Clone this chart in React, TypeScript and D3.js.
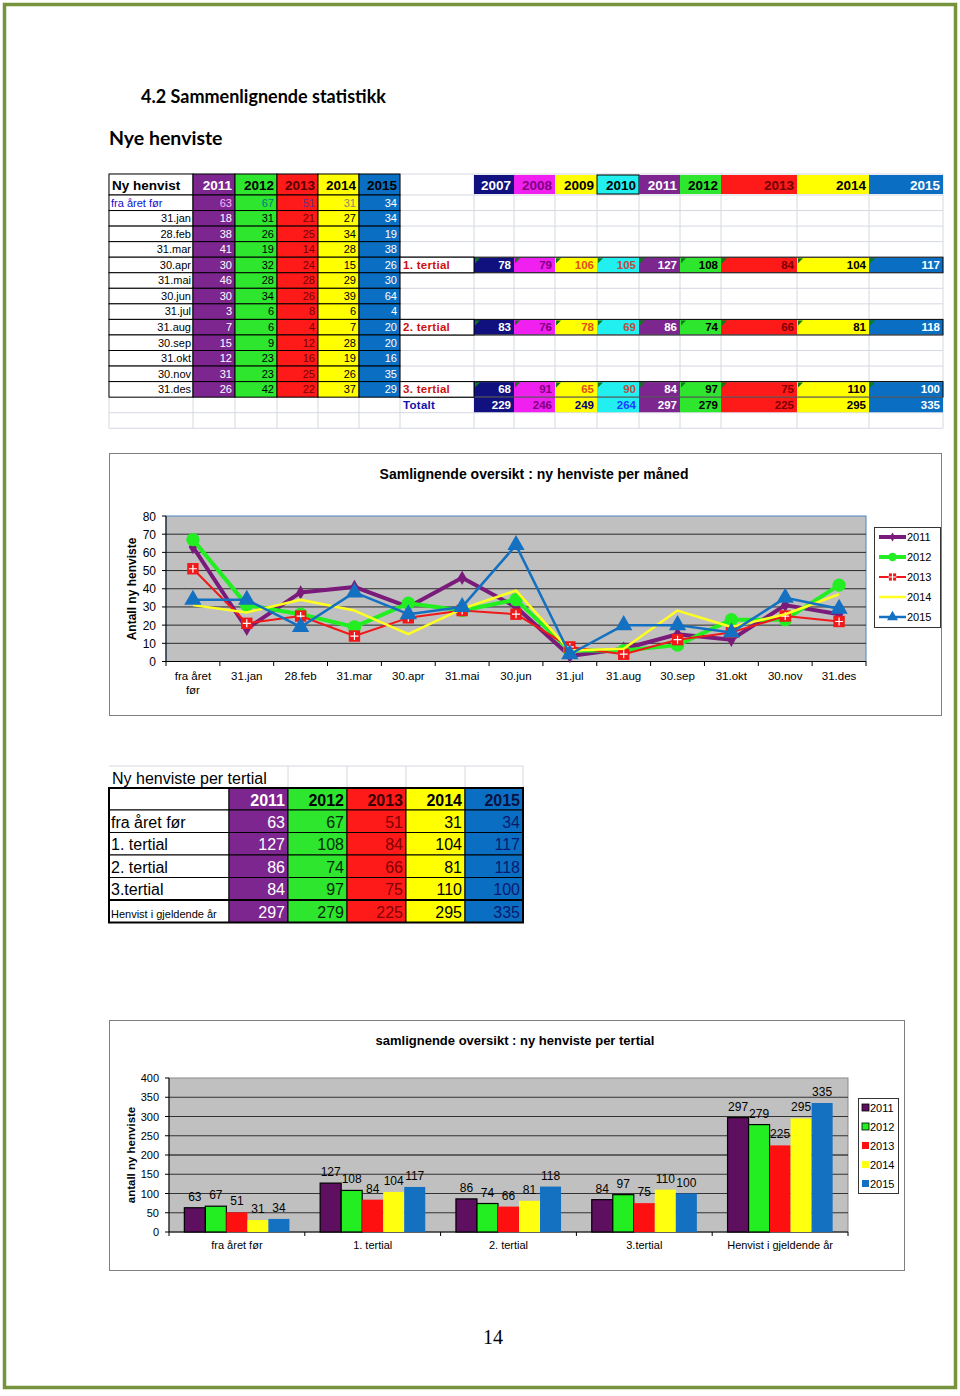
import React from "react";
import * as d3 from "d3";

// ---- data ----
const years = ["2011", "2012", "2013", "2014", "2015"];
const months = ["fra året før", "31.jan", "28.feb", "31.mar", "30.apr", "31.mai", "30.jun", "31.jul", "31.aug", "30.sep", "31.okt", "30.nov", "31.des"];
const m2011 = [63, 18, 38, 41, 30, 46, 30, 3, 7, 15, 12, 31, 26];
const m2012 = [67, 31, 26, 19, 32, 28, 34, 6, 6, 9, 23, 23, 42];
const m2013 = [51, 21, 25, 14, 24, 28, 26, 8, 4, 12, 16, 25, 22];
const m2014 = [31, 27, 34, 28, 15, 29, 39, 6, 7, 28, 19, 26, 37];
const m2015 = [34, 34, 19, 38, 26, 30, 64, 4, 20, 20, 16, 35, 29];

const tertYears = ["2007", "2008", "2009", "2010", "2011", "2012", "2013", "2014", "2015"];
const tert1 = [78, 79, 106, 105, 127, 108, 84, 104, 117];
const tert2 = [83, 76, 78, 69, 86, 74, 66, 81, 118];
const tert3 = [68, 91, 65, 90, 84, 97, 75, 110, 100];
const totalt = [229, 246, 249, 264, 297, 279, 225, 295, 335];
const tertLabels = ["1. tertial", "2. tertial", "3. tertial", "Totalt"];

const groups = ["fra året før", "1. tertial", "2. tertial", "3.tertial", "Henvist i gjeldende år"];
const g2011 = [63, 127, 86, 84, 297];
const g2012 = [67, 108, 74, 97, 279];
const g2013 = [51, 84, 66, 75, 225];
const g2014 = [31, 104, 81, 110, 295];
const g2015 = [34, 117, 118, 100, 335];

// ---- styles ----
const F = "'Liberation Sans', Arial, sans-serif";
const C = {
  purple: "#7d2690", green: "#2ee62e", red: "#ff1a1a", yellow: "#ffff00", blue: "#0a6fc2",
  navy: "#10107e", magenta: "#f020f0", cyan: "#22f0f0", darkPurple: "#5f0f5f",
};
const yearFill: Record<string, string> = {
  "2007": C.navy, "2008": C.magenta, "2009": C.yellow, "2010": C.cyan,
  "2011": C.purple, "2012": C.green, "2013": C.red, "2014": C.yellow, "2015": C.blue,
};
const grid = "#d4d8e0";

// top table layout
const leftEdges = [109, 193, 235, 277, 318, 359, 400];
const rightEdges = [400, 474, 514, 555, 597, 639, 680, 721, 797, 869, 943];
const rowS = d3.scaleLinear().domain([0, 15]).range([195, 428.25]);
const headTop = 174;

function TopTable() {
  const monthly = [m2011, m2012, m2013, m2014, m2015];
  const leftHeadText = ["#fff", "#000", "#5a0000", "#000", "#000"];
  const leftValText = ["#fff", "#000", "#7a0000", "#000", "#fff"];
  const firstRowText = ["#ffb8ff", "#007a7a", "#6a2aa0", "#8a8a6a", "#fff"];
  const rightHeadText: Record<string, string> = {
    "2007": "#fff", "2008": "#800080", "2009": "#000", "2010": "#000", "2011": "#fff",
    "2012": "#000", "2013": "#700000", "2014": "#000", "2015": "#fff",
  };
  const rightValText: Record<string, string> = {
    "2007": "#fff", "2008": "#800080", "2009": "#e0501a", "2010": "#c04a40", "2011": "#fff",
    "2012": "#000", "2013": "#800000", "2014": "#000", "2015": "#fff",
  };
  const totText: Record<string, string> = { ...rightValText, "2009": "#000080", "2010": "#1a40ff" };
  const tertRows = [4, 8, 12, 13];
  const tertVals = [tert1, tert2, tert3, totalt];
  const allX = Array.from(new Set([...leftEdges, ...rightEdges]));
  const rowLines = d3.range(0, 16).map((i) => rowS(i));
  return (
    <g fontFamily={F}>
      {/* light spreadsheet grid */}
      {allX.map((x) => (
        <line key={"gx" + x} x1={x} x2={x} y1={headTop} y2={rowS(15)} stroke={grid} />
      ))}
      {[headTop, ...rowLines].map((y, i) => (
        <line key={"gy" + i} x1={109} x2={943} y1={y} y2={y} stroke={grid} />
      ))}
      {/* left header */}
      <rect x={109} y={headTop} width={leftEdges[1] - 109} height={195 - headTop} fill="#fff" stroke="#000" />
      <text x={112} y={190} fontSize={13.5} fontWeight="bold">Ny henvist</text>
      {years.map((yr, j) => (
        <g key={"lh" + yr}>
          <rect x={leftEdges[j + 1]} y={headTop} width={leftEdges[j + 2] - leftEdges[j + 1]} height={195 - headTop} fill={yearFill[yr]} stroke="#000" />
          <text x={leftEdges[j + 2] - 3} y={190} fontSize={13.5} fontWeight="bold" textAnchor="end" fill={leftHeadText[j]}>{yr}</text>
        </g>
      ))}
      {/* left rows */}
      {months.map((m, i) => {
        const y0 = rowS(i), y1 = rowS(i + 1);
        return (
          <g key={"lr" + i}>
            <rect x={109} y={y0} width={leftEdges[1] - 109} height={y1 - y0} fill="#fff" stroke="#000" />
            {i === 0 ? (
              <text x={111} y={y1 - 4} fontSize={11} fill="#1010cc">{m}</text>
            ) : (
              <text x={leftEdges[1] - 2} y={y1 - 4} fontSize={11} textAnchor="end">{m}</text>
            )}
            {years.map((yr, j) => (
              <g key={yr}>
                <rect x={leftEdges[j + 1]} y={y0} width={leftEdges[j + 2] - leftEdges[j + 1]} height={y1 - y0} fill={yearFill[yr]} stroke="#000" />
                <text x={leftEdges[j + 2] - 3} y={y1 - 4} fontSize={11} textAnchor="end" fill={i === 0 ? firstRowText[j] : leftValText[j]}>
                  {monthly[j][i]}
                </text>
              </g>
            ))}
          </g>
        );
      })}
      {/* right header */}
      {tertYears.map((yr, j) => (
        <g key={"rh" + yr}>
          <rect x={rightEdges[j + 1]} y={headTop + 1} width={rightEdges[j + 2] - rightEdges[j + 1]} height={195 - headTop - 2} fill={yearFill[yr]} stroke={yr === "2010" ? "#000" : "none"} />
          <text x={rightEdges[j + 2] - 3} y={190} fontSize={13.5} fontWeight="bold" textAnchor="end" fill={rightHeadText[yr]}>{yr}</text>
        </g>
      ))}
      {/* tertial rows */}
      {tertRows.map((r, k) => {
        const y0 = rowS(r), y1 = rowS(r + 1);
        const isTot = k === 3;
        return (
          <g key={"tr" + r}>
            {tertYears.map((yr, j) => (
              <g key={yr}>
                <rect x={rightEdges[j + 1]} y={y0 + 0.5} width={rightEdges[j + 2] - rightEdges[j + 1]} height={y1 - y0 - 1} fill={yearFill[yr]} />
                {!isTot && (
                  <path d={`M${rightEdges[j + 1] + 1},${y0 + 1}h5l-5,5z`} fill="#0a7a1a" />
                )}
                <text x={rightEdges[j + 2] - 3} y={y1 - 4} fontSize={11.5} fontWeight="bold" textAnchor="end" fill={isTot ? totText[yr] : rightValText[yr]}>
                  {tertVals[k][j]}
                </text>
              </g>
            ))}
            {!isTot && (
              <>
                <rect x={400} y={y0} width={543} height={y1 - y0} fill="none" stroke="#000" />
                <rect x={400} y={y0} width={74} height={y1 - y0} fill="#fff" stroke="#000" />
              </>
            )}
            <text x={403} y={y1 - 4} fontSize={11.5} fontWeight="bold" letterSpacing={0.3} fill={isTot ? "#1414a8" : "#cc1010"}>
              {tertLabels[k]}
            </text>
          </g>
        );
      })}
    </g>
  );
}

function LineChart() {
  const x = d3.scaleBand().domain(months).range([166, 866]);
  const y = d3.scaleLinear().domain([0, 80]).range([661.5, 516]);
  const series = [
    { name: "2011", data: m2011, color: "#7a1a7a", width: 4, sym: d3.symbolDiamond, size: 60 },
    { name: "2012", data: m2012, color: "#22ee22", width: 4, sym: d3.symbolCircle, size: 140 },
    { name: "2013", data: m2013, color: "#f01818", width: 2, sym: d3.symbolSquare, size: 130 },
    { name: "2014", data: m2014, color: "#ffff20", width: 2.5, sym: null, size: 0 },
    { name: "2015", data: m2015, color: "#1470c0", width: 2.5, sym: d3.symbolTriangle, size: 130 },
  ];
  const cx = (m: string) => (x(m) as number) + x.bandwidth() / 2;
  const line = d3.line<number>().x((_, i) => cx(months[i])).y((d) => y(d));
  const ticks = y.ticks(8);
  const marker = (s: typeof series[number], px: number, py: number, key: string) => {
    if (!s.sym) return null;
    const p = d3.symbol().type(s.sym).size(s.size)();
    return (
      <g key={key} transform={`translate(${px},${py})`}>
        <path d={p || ""} fill={s.color} />
        {s.name === "2013" && <path d="M-4,0H4M0,-4V4" stroke="#fff" strokeWidth={1.2} />}
      </g>
    );
  };
  return (
    <g fontFamily={F}>
      <rect x={109.5} y={453.5} width={832} height={262} fill="#fff" stroke="#7f7f7f" />
      <text x={534} y={479} fontSize={14} fontWeight="bold" textAnchor="middle">
        Samlignende oversikt : ny henviste per måned
      </text>
      <rect x={166} y={516} width={700} height={145.5} fill="#c0c0c0" stroke="#4a86c0" />
      {ticks.map((t) => (
        <g key={t}>
          {t > 0 && t < 80 && <line x1={166} x2={866} y1={y(t)} y2={y(t)} stroke="#2a2a2a" />}
          <line x1={162} x2={166} y1={y(t)} y2={y(t)} stroke="#000" />
          <text x={156} y={y(t) + 4.5} fontSize={12} textAnchor="end">{t}</text>
        </g>
      ))}
      <line x1={166} x2={166} y1={516} y2={661.5} stroke="#000" />
      <line x1={166} x2={866} y1={661.5} y2={661.5} stroke="#000" />
      {months.map((m, i) => (
        <line key={"xt" + i} x1={(x(m) as number) + x.bandwidth()} x2={(x(m) as number) + x.bandwidth()} y1={661.5} y2={666} stroke="#000" />
      ))}
      <line x1={166} x2={166} y1={661.5} y2={666} stroke="#000" />
      {months.map((m, i) =>
        i === 0 ? (
          <text key={m} x={cx(m)} y={680} fontSize={11.5} textAnchor="middle">
            <tspan x={cx(m)}>fra året</tspan>
            <tspan x={cx(m)} dy={14}>før</tspan>
          </text>
        ) : (
          <text key={m} x={cx(m)} y={680} fontSize={11.5} textAnchor="middle">{m}</text>
        )
      )}
      <text transform="translate(136,589) rotate(-90)" fontSize={12} fontWeight="bold" textAnchor="middle">
        Antall ny henviste
      </text>
      {series.map((s) => (
        <g key={s.name}>
          <path d={line(s.data) || ""} fill="none" stroke={s.color} strokeWidth={s.width} strokeLinejoin="round" />
          {s.data.map((d, i) => marker(s, cx(months[i]), y(d), s.name + i))}
        </g>
      ))}
      {/* legend */}
      <rect x={874.5} y={527.5} width={66} height={100} fill="#fff" stroke="#333" />
      {series.map((s, i) => {
        const ly = 537 + i * 20;
        return (
          <g key={"lg" + s.name}>
            <line x1={879} x2={906} y1={ly} y2={ly} stroke={s.color} strokeWidth={s.width} />
            {marker({ ...s, size: s.size * 0.4 }, 892.5, ly, "lm" + i)}
            <text x={907} y={ly + 4} fontSize={11}>{s.name}</text>
          </g>
        );
      })}
    </g>
  );
}

function TertialTable() {
  const cols = [109, 229, 288, 347, 406, 465, 523];
  const rowsY = d3.scaleLinear().domain([0, 5]).range([810, 922.5]);
  const perYear = [g2011, g2012, g2013, g2014, g2015];
  const textCol = ["#fff", "#062a06", "#800000", "#000", "#0a1a70"];
  const headCol = ["#fff", "#000", "#3a0000", "#000", "#0a1240"];
  return (
    <g fontFamily={F}>
      {[288, 347, 406, 465, 523].map((xx) => (
        <line key={xx} x1={xx} x2={xx} y1={766} y2={788} stroke={grid} />
      ))}
      <line x1={109} x2={523} y1={766} y2={766} stroke={grid} />
      <text x={112} y={784} fontSize={16}>Ny henviste per tertial</text>
      <rect x={109} y={788} width={cols[1] - 109} height={22} fill="#fff" stroke="#000" />
      {years.map((yr, j) => (
        <g key={"h" + yr}>
          <rect x={cols[j + 1]} y={788} width={cols[j + 2] - cols[j + 1]} height={22} fill={yearFill[yr]} stroke="#000" />
          <text x={cols[j + 2] - 3} y={806} fontSize={16} fontWeight="bold" textAnchor="end" fill={headCol[j]}>{yr}</text>
        </g>
      ))}
      {groups.map((g, i) => {
        const y0 = rowsY(i), y1 = rowsY(i + 1);
        return (
          <g key={g}>
            <rect x={109} y={y0} width={cols[1] - 109} height={y1 - y0} fill="#fff" stroke="#000" />
            <text x={111} y={y1 - 5} fontSize={i === 4 ? 11 : 16}>{g}</text>
            {years.map((yr, j) => (
              <g key={yr}>
                <rect x={cols[j + 1]} y={y0} width={cols[j + 2] - cols[j + 1]} height={y1 - y0} fill={yearFill[yr]} stroke="#000" />
                <text x={cols[j + 2] - 3} y={y1 - 5} fontSize={16} textAnchor="end" fill={textCol[j]}>{perYear[j][i]}</text>
              </g>
            ))}
          </g>
        );
      })}
      <rect x={109} y={788} width={414} height={134.5} fill="none" stroke="#000" strokeWidth={2} />
      <line x1={109} x2={523} y1={rowsY(4)} y2={rowsY(4)} stroke="#000" strokeWidth={2} />
    </g>
  );
}

function BarChart() {
  const x0 = d3.scaleBand().domain(groups).range([169, 848]);
  const x1 = d3.scaleBand().domain(years).range([0, x0.bandwidth()]).paddingOuter(0.73);
  const y = d3.scaleLinear().domain([0, 400]).range([1232, 1078]);
  const perYear = [g2011, g2012, g2013, g2014, g2015];
  const fills = [C.darkPurple, "#22ee22", "#ff1010", "#ffff10", "#1470c0"];
  const outlined = [true, true, false, false, false];
  const ticks = y.ticks(8);
  return (
    <g fontFamily={F}>
      <rect x={109.5} y={1020.5} width={795} height={250} fill="#fff" stroke="#7f7f7f" />
      <text x={515} y={1045} fontSize={13} fontWeight="bold" textAnchor="middle">
        samlignende oversikt : ny henviste per tertial
      </text>
      <rect x={169} y={1078} width={679} height={154} fill="#c0c0c0" stroke="#8a8a8a" />
      {ticks.map((t) => (
        <g key={t}>
          {t > 0 && t < 400 && <line x1={169} x2={848} y1={y(t)} y2={y(t)} stroke={t === 200 ? "#000" : "#333"} />}
          <line x1={165} x2={169} y1={y(t)} y2={y(t)} stroke="#000" />
          <text x={159} y={y(t) + 4} fontSize={11} textAnchor="end">{t}</text>
        </g>
      ))}
      <line x1={169} x2={169} y1={1078} y2={1232} stroke="#000" />
      <line x1={169} x2={848} y1={1232} y2={1232} stroke="#000" />
      {groups.map((g) => (
        <line key={"t" + g} x1={(x0(g) as number) + x0.bandwidth()} x2={(x0(g) as number) + x0.bandwidth()} y1={1232} y2={1236} stroke="#000" />
      ))}
      <line x1={169} x2={169} y1={1232} y2={1236} stroke="#000" />
      {groups.map((g) => (
        <text key={"l" + g} x={(x0(g) as number) + x0.bandwidth() / 2} y={1249} fontSize={11} textAnchor="middle">{g}</text>
      ))}
      <text transform="translate(135,1155) rotate(-90)" fontSize={11.5} fontWeight="bold" textAnchor="middle">
        antall ny henviste
      </text>
      {groups.map((g, gi) => (
        <g key={"b" + g} transform={`translate(${x0(g)},0)`}>
          {years.map((yr, j) => {
            const v = perYear[j][gi];
            const bx = x1(yr) as number;
            return (
              <g key={yr}>
                <rect x={bx} y={y(v)} width={x1.bandwidth()} height={1232 - y(v)} fill={fills[j]} stroke={outlined[j] ? "#000" : "none"} strokeWidth={1.2} />
                <text x={bx + x1.bandwidth() / 2} y={y(v) - 7} fontSize={12} textAnchor="middle">{v}</text>
              </g>
            );
          })}
        </g>
      ))}
      <rect x={858.5} y={1098.5} width={40} height={95} fill="#fff" stroke="#333" />
      {years.map((yr, j) => {
        const ly = 1108 + j * 19;
        return (
          <g key={"lg" + yr}>
            <rect x={862} y={ly - 4} width={7} height={7} fill={fills[j]} stroke={outlined[j] ? "#000" : "none"} strokeWidth={0.8} />
            <text x={870} y={ly + 4} fontSize={11}>{yr}</text>
          </g>
        );
      })}
    </g>
  );
}

export default function App() {
  return (
    <svg width={960} height={1396} style={{ position: "absolute", left: 0, top: 0, display: "block" }}>
      <rect x={0} y={0} width={960} height={1396} fill="#fff" />
      <rect x={4.5} y={4.5} width={951} height={1383} fill="none" stroke="#77933c" strokeWidth={3.5} />
      <text x={141} y={103} fontFamily="Lato, 'Open Sans', sans-serif" fontSize={18} fontWeight="bold">
        4.2 Sammenlignende statistikk
      </text>
      <text x={109} y={145} fontFamily="Lato, 'Open Sans', sans-serif" fontSize={19.5} fontWeight="bold">
        Nye henviste
      </text>
      <TopTable />
      <LineChart />
      <TertialTable />
      <BarChart />
      <text x={483} y={1344} fontFamily="'Liberation Serif', 'DejaVu Serif', serif" fontSize={20}>14</text>
    </svg>
  );
}
